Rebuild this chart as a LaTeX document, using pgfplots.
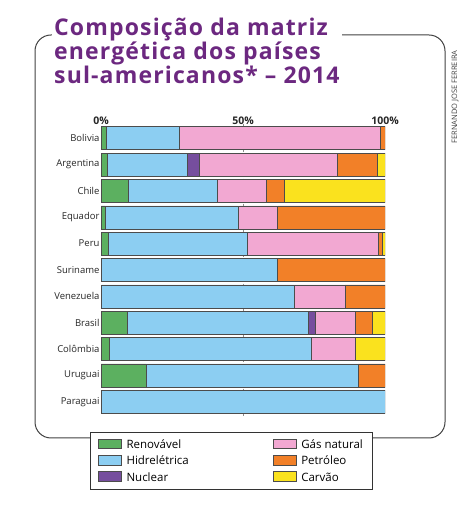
\documentclass[border=0pt]{standalone}
\usepackage{fontspec}
\setmainfont{Open Sans}
\newfontfamily\titlefont{Open Sans}[LetterSpace=5]
\usepackage{pgfplots}
\pgfplotsset{compat=1.18}
\usepackage{pgfplotstable}

\definecolor{renov}{RGB}{92,176,96}
\definecolor{hidro}{RGB}{140,206,242}
\definecolor{nuclear}{RGB}{118,78,158}
\definecolor{gas}{RGB}{242,168,210}
\definecolor{petro}{RGB}{242,128,40}
\definecolor{carvao}{RGB}{250,226,30}
\definecolor{titulo}{RGB}{108,40,128}

% shares (%)
\pgfplotstableread{
idx ren  hid   nuc  gas   pet   car
0   2.0  25.5  0    70.7  1.8   0
1   2.3  28.1  4.1  48.8  13.8  2.9
2   9.6  31.3  0    17.2  6.5   35.4
3   1.4  47.0  0    13.8  37.8  0
4   2.6  48.8  0    46.3  1.2   1.1
5   0    61.9  0    0     38.1  0
6   0    67.9  0    18.1  14.0  0
7   9.2  63.7  2.7  13.8  6.1   4.5
8   2.8  71.2  0    15.6  0     10.4
9   15.9 74.7  0    0     9.4   0
10  0    100   0    0     0     0
}\matriz

\begin{document}
\begin{tikzpicture}
\useasboundingbox (0pt,0pt) rectangle (463pt,527pt);
% frame
\draw[black!75, line width=1pt, rounded corners=16pt] (35pt,492pt) rectangle (445pt,89pt);
% title
\node[fill=white, anchor=north west, align=left, text=titulo, font=\titlefont\fontsize{23}{22}\selectfont\bfseries, inner sep=2pt]
  at (52pt,511pt) {Composição da matriz\\energética dos países\\sul-americanos* – 2014};
\node[rotate=90, font=\fontsize{7.5}{8}\selectfont, text=black!75] at (455pt,430pt) {FERNANDO JOSE FERREIRA};

\begin{axis}[
  at={(101pt,112pt)}, anchor=south west,
  scale only axis, width=284pt, height=290pt,
  xbar stacked, bar width=23pt,
  xmin=0, xmax=100,
  ymin=-0.5, ymax=10.5, y dir=reverse,
  axis line style={draw=none},
  tick style={draw=none},
  xtick={0,50,100}, xticklabels={0\%,50\%,100\%},
  xticklabel pos=upper,
  ytick={0,...,10},
  yticklabels={Bolivia,Argentina,Chile,Equador,Peru,Suriname,Venezuela,Brasil,Colômbia,Uruguai,Paraguai},
  every x tick label/.append style={font=\fontsize{10.5}{12}\selectfont\bfseries, text=black!85, yshift=-3pt},
  every y tick label/.append style={font=\fontsize{9.5}{11}\selectfont, text=black!85, xshift=2pt},
  legend style={at={(-0.04,-0.06)}, anchor=north west, draw=black!80, line width=0.8pt, fill=white,
    font=\fontsize{11.5}{13}\selectfont, row sep=2pt, inner xsep=8pt, inner ysep=5pt,
    /tikz/every odd column/.append style={column sep=3pt},
    /tikz/every even column/.append style={column sep=82pt}},
  legend columns=3, transpose legend,
  legend cell align=left,
  legend image code/.code={\draw[#1, line width=0.5pt] (0pt,-3.5pt) rectangle (23pt,6pt);},
  every axis plot/.append style={draw=black!70, line width=0.45pt},
]
\addplot[fill=renov] table[x=ren,y=idx]{\matriz};
\addlegendentry{Renovável}
\addplot[fill=hidro] table[x=hid,y=idx]{\matriz};
\addlegendentry{Hidrelétrica}
\addplot[fill=nuclear] table[x=nuc,y=idx]{\matriz};
\addlegendentry{Nuclear}
\addplot[fill=gas] table[x=gas,y=idx]{\matriz};
\addlegendentry{Gás natural}
\addplot[fill=petro] table[x=pet,y=idx]{\matriz};
\addlegendentry{Petróleo}
\addplot[fill=carvao] table[x=car,y=idx]{\matriz};
\addlegendentry{Carvão}
\draw[black!45, densely dashed] (axis cs:50,-0.55) -- (axis cs:50,10.55);
\end{axis}
\end{tikzpicture}
\end{document}
